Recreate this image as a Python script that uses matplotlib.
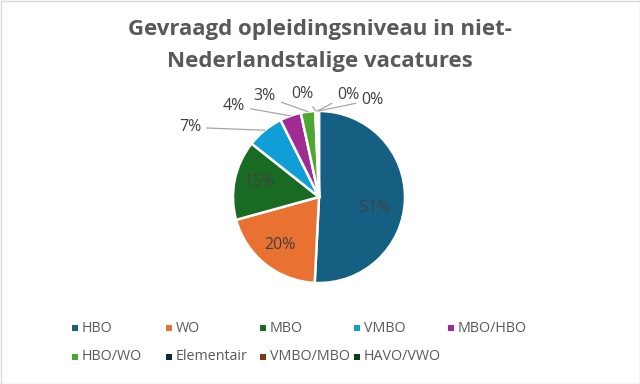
import matplotlib
matplotlib.use("Agg")
import matplotlib.pyplot as plt
from matplotlib.patches import Rectangle
import numpy as np

plt.rcParams['font.family'] = ['Open Sans', 'DejaVu Sans']

categories = ["HBO", "WO", "MBO", "VMBO", "MBO/HBO", "HBO/WO", "Elementair", "VMBO/MBO", "HAVO/VWO"]
values = [51.0, 20.0, 15.0, 7.0, 4.0, 2.7, 0.3, 0.2, 0.2]
colors = ["#156082", "#E97132", "#196B24", "#0F9ED5", "#A02B93", "#4EA72E", "#0E2841", "#7F3A14", "#0D3D15"]

W, H = 640, 384
fig = plt.figure(figsize=(6.4, 3.84), dpi=100)
fig.patch.set_facecolor("white")

# pie axes: center (319,197) px, radius 86 px
cx, cy, r = 319, 197, 86
ax = fig.add_axes([(cx - r) / W, (H - cy - r) / H, 2 * r / W, 2 * r / H])

total = sum(values)
wedges, _ = ax.pie(values, colors=colors, startangle=90, counterclock=False, radius=1,
                   wedgeprops=dict(edgecolor="white", linewidth=1.8))
ax.set_xlim(-1, 1)
ax.set_ylim(-1, 1)
ax.axis("off")

txtcol = "#404040"
# inside labels: (radius, angle offset in degrees) -- layout
inside = {0: (0.66, -9.5), 1: (0.72, 0.0), 2: (0.72, -3.0)}
# outside label positions (layout), in axes data units
outside = {3: (-1.50, 0.81), 4: (-0.99, 1.06), 5: (-0.63, 1.17),
           6: (-0.19, 1.20), 7: (0.34, 1.19), 8: (0.62, 1.13)}
for i, w in enumerate(wedges):
    mid = (w.theta1 + w.theta2) / 2
    pct = f"{round(values[i] / total * 100):d}%"
    if i in inside:
        rr, off = inside[i]
        a = np.deg2rad(mid + off)
        ax.text(rr * np.cos(a), rr * np.sin(a), pct, ha="center", va="center",
                fontsize=11.5, color=txtcol)
    else:
        a = np.deg2rad(mid)
        tx, ty = outside[i]
        ax.annotate(pct, xy=(np.cos(a), np.sin(a)), xytext=(tx, ty),
                    ha="center", va="center", fontsize=11.5, color=txtcol,
                    arrowprops=dict(arrowstyle="-", color="#A6A6A6", lw=0.9,
                                    shrinkA=2, shrinkB=0),
                    annotation_clip=False)

# title
fig.text(0.5, 1 - 29 / H, "Gevraagd opleidingsniveau in niet-", ha="center", va="center",
         fontsize=16, fontweight="bold", color="#595959")
fig.text(0.5, 1 - 61 / H, "Nederlandstalige vacatures", ha="center", va="center",
         fontsize=16, fontweight="bold", color="#595959")

# legend (manual grid, Excel style)
col_x = [75, 169, 263, 357, 451]
row_y = [328, 357]
for i, (cat, col) in enumerate(zip(categories, colors)):
    rrow, ccol = divmod(i, 5)
    x, y = col_x[ccol], row_y[rrow]
    fig.patches.append(Rectangle(((x - 3) / W, 1 - (y + 3) / H), 6 / W, 6 / H,
                                 transform=fig.transFigure, facecolor=col, edgecolor="none"))
    fig.text((x + 7) / W, 1 - y / H, cat, ha="left", va="center", fontsize=10.3, color="#595959")

# outer border
fig.patches.append(Rectangle((0.5 / W, 0.5 / H), 1 - 1 / W, 1 - 1 / H, transform=fig.transFigure,
                             facecolor="none", edgecolor="#D9D9D9", lw=1))

fig.savefig("out.png", dpi=100)
